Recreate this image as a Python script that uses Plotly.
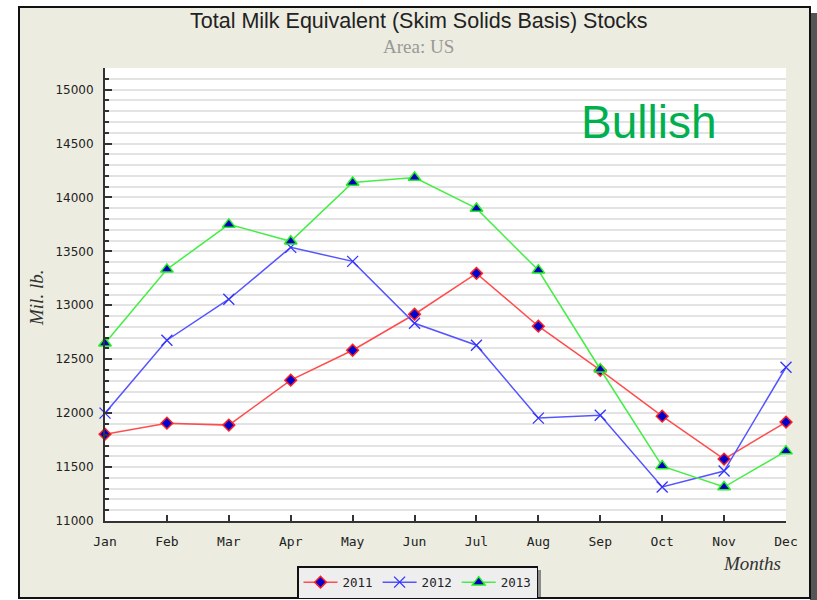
import plotly.graph_objects as go

months = ["Jan", "Feb", "Mar", "Apr", "May", "Jun", "Jul", "Aug", "Sep", "Oct", "Nov", "Dec"]
stocks_2011 = [11805, 11907, 11889, 12306, 12583, 12917, 13296, 12806, 12398, 11972, 11574, 11917]
stocks_2012 = [12000, 12676, 13056, 13537, 13407, 12833, 12630, 11954, 11981, 11315, 11463, 12426]
stocks_2013 = [12648, 13333, 13750, 13593, 14139, 14185, 13898, 13324, 12407, 11509, 11315, 11648]
y_ticks = [11000, 11500, 12000, 12500, 13000, 13500, 14000, 14500, 15000]

W, H = 817, 600
L, R, T, B = 105, 786, 68, 521


def px(x):
    return (x - L) / (R - L)


def py(y):
    return (B - y) / (B - T)


xs = list(range(len(months)))
fig = go.Figure()
fig.add_trace(go.Scatter(
    x=xs, y=stocks_2011, name="2011", mode="lines+markers",
    line=dict(color="#ff4d4d", width=1.5),
    marker=dict(symbol="diamond", size=9, color="#0000d0", line=dict(color="#ff2020", width=1.5)),
    cliponaxis=False))
fig.add_trace(go.Scatter(
    x=xs, y=stocks_2012, name="2012", mode="lines+markers",
    line=dict(color="#5555ff", width=1.5),
    marker=dict(symbol="x-thin", size=11, color="#3333ff", line=dict(color="#3333ff", width=1.3)),
    cliponaxis=False))
fig.add_trace(go.Scatter(
    x=xs, y=stocks_2013, name="2013", mode="lines+markers",
    line=dict(color="#44ee44", width=1.5),
    marker=dict(symbol="triangle-up", size=11, color="#0000c0", line=dict(color="#22ee22", width=1.5)),
    cliponaxis=False))

shapes = [
    dict(type="rect", xref="paper", yref="paper", x0=px(810), x1=px(817), y0=py(13), y1=py(600),
         fillcolor="#555555", line=dict(width=0), layer="below"),
    dict(type="rect", xref="paper", yref="paper", x0=px(19), x1=px(810), y0=py(7), y1=py(598),
         fillcolor="#ecece0", line=dict(color="#111111", width=2), layer="below"),
    dict(type="rect", xref="paper", yref="paper", x0=0, x1=1, y0=0, y1=1,
         fillcolor="#ffffff", line=dict(width=0), layer="below"),
    dict(type="rect", xref="paper", yref="paper", x0=px(301), x1=px(541), y0=py(570), y1=py(597),
         fillcolor="#8a8a8a", line=dict(width=0), layer="below"),
]

annotations = [
    dict(text="Total Milk Equivalent (Skim Solids Basis) Stocks", xref="paper", yref="paper",
         x=px(419), y=py(21), showarrow=False, xanchor="center", yanchor="middle",
         font=dict(family="Liberation Sans, Arial", size=21.5, color="#222222")),
    dict(text="Area: US", xref="paper", yref="paper",
         x=px(418), y=py(47), showarrow=False, xanchor="center", yanchor="middle",
         font=dict(family="Liberation Serif, serif", size=19, color="#999999")),
    dict(text="Bullish", xref="paper", yref="paper",
         x=px(649), y=py(122), showarrow=False, xanchor="center", yanchor="middle",
         font=dict(family="Liberation Sans, Arial", size=46, color="#00b050")),
    dict(text="<i>Mil. lb.</i>", xref="paper", yref="paper",
         x=px(36), y=py(298), showarrow=False, xanchor="center", yanchor="middle", textangle=-90,
         font=dict(family="Liberation Serif, serif", size=19, color="#333333")),
    dict(text="<i>Months</i>", xref="paper", yref="paper",
         x=px(783), y=py(563), showarrow=False, xanchor="right", yanchor="middle",
         font=dict(family="Liberation Serif, serif", size=19, color="#333333")),
]

fig.update_layout(
    width=W, height=H,
    margin=dict(l=L, r=W - R, t=T, b=H - B, pad=0, autoexpand=False),
    paper_bgcolor="#ffffff",
    plot_bgcolor="rgba(0,0,0,0)",
    shapes=shapes,
    annotations=annotations,
    showlegend=True,
    legend=dict(orientation="h", x=px(297), y=py(566), xanchor="left", yanchor="top",
                bgcolor="#eeeeee", bordercolor="#111111", borderwidth=1.5,
                font=dict(family="DejaVu Sans Mono, monospace", size=12.5, color="#222222"),
                itemwidth=34, tracegroupgap=0),
    xaxis=dict(
        range=[0, 11], tickmode="array", tickvals=xs, ticktext=months,
        showgrid=False, zeroline=False, automargin=False,
        showline=True, linecolor="#333333", linewidth=2,
        ticks="inside", ticklen=6, tickcolor="#333333", tickwidth=1.5,
        tickfont=dict(family="DejaVu Sans Mono, monospace", size=13, color="#222222"),
        ticklabelstandoff=7,
    ),
    yaxis=dict(
        range=[11000, 15200], tickmode="array", tickvals=y_ticks,
        ticktext=[str(v) for v in y_ticks], automargin=False,
        showgrid=True, gridcolor="#e3e3e3", gridwidth=2, zeroline=False,
        showline=True, linecolor="#333333", linewidth=2,
        ticks="inside", ticklen=7, tickcolor="#333333", tickwidth=1.5,
        minor=dict(dtick=100, tick0=11000, ticks="inside", ticklen=4, tickcolor="#333333",
                   showgrid=True, gridcolor="#e3e3e3", gridwidth=2),
        tickfont=dict(family="DejaVu Sans, Verdana", size=12, color="#222222"),
        ticklabelstandoff=7,
    ),
)

fig.write_html("out.html", config={"displayModeBar": False},
               post_script="document.body.style.margin='0';")
